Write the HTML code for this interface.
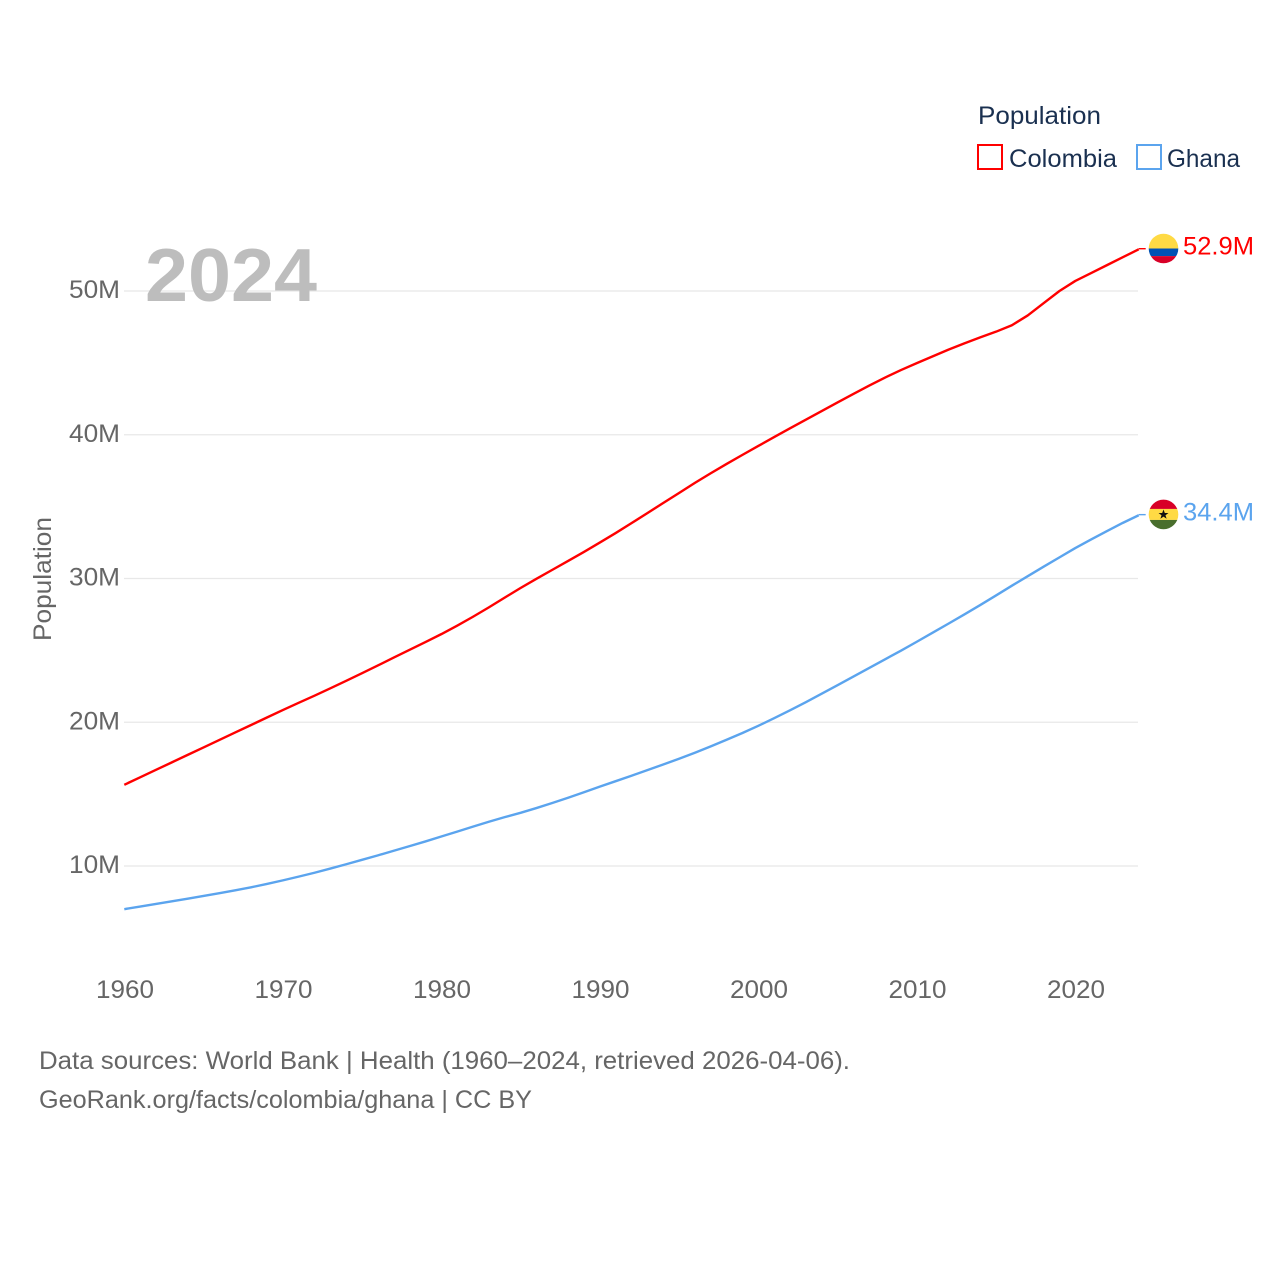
<!DOCTYPE html>
<html lang="en">
<head>
<meta charset="utf-8">
<title>Population: Colombia and Ghana</title>
<style>
html,body{margin:0;padding:0;background:#fff}
svg{display:block}
text{font-family:"Liberation Sans",sans-serif}
</style>
</head>
<body>
<svg id="chart" xmlns="http://www.w3.org/2000/svg" width="1280" height="1280" viewBox="0 0 1280 1280">
  <rect x="0" y="0" width="1280" height="1280" fill="#fff"/>
  <g id="grid"></g>
  <g id="yticks"></g>
  <g id="xticks"></g>
  <text transform="translate(51,641) rotate(-90)" font-size="25" fill="#666" textLength="124" lengthAdjust="spacingAndGlyphs">Population</text>
  <text x="145" y="301" font-size="75" font-weight="700" fill="#bdbdbd" textLength="172" lengthAdjust="spacingAndGlyphs">2024</text>
  <g id="series"></g>

  <g>
    <text x="978" y="124" font-size="25" fill="#1a3050" textLength="123" lengthAdjust="spacingAndGlyphs">Population</text>
    <g>
      <rect x="978" y="145" width="24" height="24" fill="#fff" stroke="#ff0000" stroke-width="2"/>
      <text x="1009" y="167" font-size="25" fill="#1a3050" textLength="108" lengthAdjust="spacingAndGlyphs">Colombia</text>
    </g>
    <g>
      <rect x="1137" y="145" width="24" height="24" fill="#fff" stroke="#5ba4ee" stroke-width="2"/>
      <text x="1167" y="167" font-size="25" fill="#1a3050" textLength="73" lengthAdjust="spacingAndGlyphs">Ghana</text>
    </g>
  </g>

  <defs>
    <clipPath id="clip-colombia"><circle cx="0" cy="0" r="14.8"/></clipPath>
    <clipPath id="clip-ghana"><circle cx="0" cy="0" r="14.8"/></clipPath>
  </defs>
  <g id="flag-colombia" clip-path="url(#clip-colombia)">
    <rect x="-15" y="-15" width="30" height="15" fill="#ffda44"/>
    <rect x="-15" y="0" width="30" height="7.6" fill="#0052b4"/>
    <rect x="-15" y="7.6" width="30" height="8" fill="#d80027"/>
  </g>
  <g id="flag-ghana" clip-path="url(#clip-ghana)">
    <rect x="-15" y="-15" width="30" height="9.5" fill="#d80027"/>
    <rect x="-15" y="-5.5" width="30" height="11" fill="#ffda44"/>
    <rect x="-15" y="5.5" width="30" height="10" fill="#496e2d"/>
    <polygon points="0,-5 1.3,-1.5 5,-1.5 2,0.8 3.1,4.3 0,2.2 -3.1,4.3 -2,0.8 -5,-1.5 -1.3,-1.5" fill="#111"/>
  </g>
  <text id="value-colombia" x="1183" font-size="25" fill="#ff0000" textLength="71" lengthAdjust="spacingAndGlyphs"></text>
  <text id="value-ghana" x="1183" font-size="25" fill="#5ba4ee" textLength="71" lengthAdjust="spacingAndGlyphs"></text>

  <text x="39" y="1069" font-size="25" fill="#666" textLength="811" lengthAdjust="spacingAndGlyphs">Data sources: World Bank | Health (1960–2024, retrieved 2026-04-06).</text>
  <text x="39" y="1108" font-size="25" fill="#666" textLength="493" lengthAdjust="spacingAndGlyphs">GeoRank.org/facts/colombia/ghana | CC BY</text>
</svg>
<script>
const firstYear = 1960;
const xTickLabels = [1960, 1970, 1980, 1990, 2000, 2010, 2020];
const yTickValues = [10, 20, 30, 40, 50];
const colombiaValues = [
  15.65, 16.17, 16.69, 17.21, 17.73, 18.25, 18.77, 19.29, 19.81, 20.33,
  20.85, 21.35, 21.85, 22.36, 22.88, 23.41, 23.95, 24.50, 25.04, 25.58,
  26.13, 26.72, 27.34, 27.99, 28.67, 29.34, 29.98, 30.60, 31.22, 31.85,
  32.50, 33.16, 33.85, 34.55, 35.25, 35.95, 36.65, 37.32, 37.97, 38.60,
  39.22, 39.84, 40.45, 41.05, 41.65, 42.25, 42.84, 43.42, 43.98, 44.50,
  44.98, 45.45, 45.92, 46.36, 46.77, 47.17, 47.62, 48.30, 49.15, 50.00,
  50.70, 51.25, 51.80, 52.35, 52.90
];
const ghanaValues = [
  7.00, 7.18, 7.36, 7.54, 7.73, 7.92, 8.11, 8.31, 8.52, 8.75,
  9.00, 9.26, 9.53, 9.82, 10.12, 10.43, 10.74, 11.06, 11.38, 11.71,
  12.05, 12.39, 12.74, 13.08, 13.40, 13.70, 14.03, 14.38, 14.75, 15.13,
  15.52, 15.90, 16.28, 16.67, 17.06, 17.46, 17.88, 18.32, 18.78, 19.25,
  19.75, 20.28, 20.83, 21.40, 21.99, 22.58, 23.18, 23.78, 24.38, 24.98,
  25.60, 26.23, 26.86, 27.50, 28.15, 28.82, 29.50, 30.16, 30.82, 31.47,
  32.12, 32.72, 33.30, 33.87, 34.40
];
const seriesNames = ['colombia', 'ghana'];
const seriesColors = ['#ff0000', '#5ba4ee'];

const svgNS = 'http://www.w3.org/2000/svg';
function xScale(year) { return 124.3 + (year - 1960) * 15.85; }
function yScale(value) { return 866 - (value - 10) * 14.375; }
function make(tag, attrs, parent) {
  const el = document.createElementNS(svgNS, tag);
  for (const k in attrs) el.setAttribute(k, attrs[k]);
  parent.appendChild(el);
  return el;
}

const gridGroup = document.getElementById('grid');
const yGroup = document.getElementById('yticks');
yTickValues.forEach(function (v) {
  const line = make('line', { x1: 124, x2: 1138, y1: yScale(v), y2: yScale(v), stroke: '#e8e8e8', 'stroke-width': 1.2 }, gridGroup);
  
  
  const label = make('text', { x: 69, y: yScale(v) + 7, 'font-size': 25, fill: '#666', textLength: 51, lengthAdjust: 'spacingAndGlyphs' }, yGroup);
  
  
  label.textContent = v + 'M';
});

const xGroup = document.getElementById('xticks');
xTickLabels.forEach(function (year) {
  const label = make('text', { x: xScale(year) - 28.3, y: 998, 'font-size': 25, fill: '#666', textLength: 58, lengthAdjust: 'spacingAndGlyphs' }, xGroup);
  
  
  label.textContent = String(year);
});

const seriesGroup = document.getElementById('series');
[colombiaValues, ghanaValues].forEach(function (values, s) {
  const lastIndex = values.length - 1;
  const d = values.map(function (v, i) {
    return (i ? 'L' : 'M') + xScale(firstYear + i).toFixed(2) + ' ' + yScale(v).toFixed(2);
  }).join(' ');
  const endX = xScale(firstYear + lastIndex);
  const endY = yScale(values[lastIndex]);
  const path = make('path', { d: d, fill: 'none', stroke: seriesColors[s], 'stroke-width': 2.4, 'stroke-linejoin': 'round' }, seriesGroup);
  
  
  const connector = make('line', { x1: endX, x2: endX + 7, y1: endY - 0.6, y2: endY - 0.6, stroke: seriesColors[s], 'stroke-width': 1.4 }, seriesGroup);
  
  
  document.getElementById('flag-' + seriesNames[s]).setAttribute('transform', 'translate(1163.5,' + (endY - 0.8).toFixed(2) + ')');
  const valueLabel = document.getElementById('value-' + seriesNames[s]);
  valueLabel.setAttribute('y', (endY + 5).toFixed(2));
  valueLabel.textContent = values[lastIndex].toFixed(1) + 'M';
});
</script>
</body>
</html>
